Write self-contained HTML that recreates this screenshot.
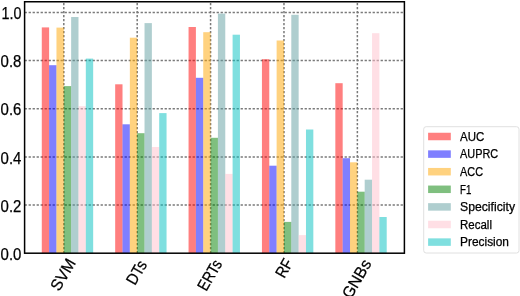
<!DOCTYPE html><html><head><meta charset="utf-8"><style>html,body{margin:0;padding:0;background:#fff;width:520px;height:296px;overflow:hidden}svg{display:block;will-change:transform}text{font-family:"Liberation Sans",sans-serif;fill:#000;stroke:#000;stroke-width:0.25px}</style></head><body>
<svg width="520" height="296" viewBox="0 0 520 296">
<rect width="520" height="296" fill="#fff"/>
<line x1="24.60" y1="205.04" x2="404.40" y2="205.04" stroke="#7a7a7a" stroke-width="1.5" stroke-dasharray="2.3 1.7"/>
<line x1="24.60" y1="156.88" x2="404.40" y2="156.88" stroke="#7a7a7a" stroke-width="1.5" stroke-dasharray="2.3 1.7"/>
<line x1="24.60" y1="108.72" x2="404.40" y2="108.72" stroke="#7a7a7a" stroke-width="1.5" stroke-dasharray="2.3 1.7"/>
<line x1="24.60" y1="60.56" x2="404.40" y2="60.56" stroke="#7a7a7a" stroke-width="1.5" stroke-dasharray="2.3 1.7"/>
<line x1="24.60" y1="12.40" x2="404.40" y2="12.40" stroke="#7a7a7a" stroke-width="1.5" stroke-dasharray="2.3 1.7"/>
<line x1="63.80" y1="253.20" x2="63.80" y2="1.75" stroke="#7a7a7a" stroke-width="1.5" stroke-dasharray="2.3 1.7"/>
<line x1="137.19" y1="253.20" x2="137.19" y2="1.75" stroke="#7a7a7a" stroke-width="1.5" stroke-dasharray="2.3 1.7"/>
<line x1="210.58" y1="253.20" x2="210.58" y2="1.75" stroke="#7a7a7a" stroke-width="1.5" stroke-dasharray="2.3 1.7"/>
<line x1="283.97" y1="253.20" x2="283.97" y2="1.75" stroke="#7a7a7a" stroke-width="1.5" stroke-dasharray="2.3 1.7"/>
<line x1="357.36" y1="253.20" x2="357.36" y2="1.75" stroke="#7a7a7a" stroke-width="1.5" stroke-dasharray="2.3 1.7"/>
<rect x="41.78" y="27.40" width="7.34" height="225.80" fill="#ff0000" fill-opacity="0.5"/>
<rect x="49.12" y="65.20" width="7.34" height="188.00" fill="#0000ff" fill-opacity="0.5"/>
<rect x="56.46" y="27.60" width="7.34" height="225.60" fill="#ffa500" fill-opacity="0.5"/>
<rect x="63.80" y="86.10" width="7.34" height="167.10" fill="#008000" fill-opacity="0.5"/>
<rect x="71.14" y="17.00" width="7.34" height="236.20" fill="#5f9ea0" fill-opacity="0.5"/>
<rect x="78.48" y="106.20" width="7.34" height="147.00" fill="#ffc0cb" fill-opacity="0.5"/>
<rect x="85.82" y="58.60" width="7.34" height="194.60" fill="#00bfbf" fill-opacity="0.5"/>
<rect x="115.17" y="84.30" width="7.34" height="168.90" fill="#ff0000" fill-opacity="0.5"/>
<rect x="122.51" y="124.30" width="7.34" height="128.90" fill="#0000ff" fill-opacity="0.5"/>
<rect x="129.85" y="37.70" width="7.34" height="215.50" fill="#ffa500" fill-opacity="0.5"/>
<rect x="137.19" y="133.20" width="7.34" height="120.00" fill="#008000" fill-opacity="0.5"/>
<rect x="144.53" y="23.10" width="7.34" height="230.10" fill="#5f9ea0" fill-opacity="0.5"/>
<rect x="151.87" y="147.00" width="7.34" height="106.20" fill="#ffc0cb" fill-opacity="0.5"/>
<rect x="159.21" y="113.10" width="7.34" height="140.10" fill="#00bfbf" fill-opacity="0.5"/>
<rect x="188.56" y="27.00" width="7.34" height="226.20" fill="#ff0000" fill-opacity="0.5"/>
<rect x="195.90" y="77.80" width="7.34" height="175.40" fill="#0000ff" fill-opacity="0.5"/>
<rect x="203.24" y="32.20" width="7.34" height="221.00" fill="#ffa500" fill-opacity="0.5"/>
<rect x="210.58" y="137.80" width="7.34" height="115.40" fill="#008000" fill-opacity="0.5"/>
<rect x="217.92" y="13.60" width="7.34" height="239.60" fill="#5f9ea0" fill-opacity="0.5"/>
<rect x="225.26" y="173.90" width="7.34" height="79.30" fill="#ffc0cb" fill-opacity="0.5"/>
<rect x="232.60" y="34.70" width="7.34" height="218.50" fill="#00bfbf" fill-opacity="0.5"/>
<rect x="261.95" y="59.20" width="7.34" height="194.00" fill="#ff0000" fill-opacity="0.5"/>
<rect x="269.29" y="165.70" width="7.34" height="87.50" fill="#0000ff" fill-opacity="0.5"/>
<rect x="276.63" y="40.50" width="7.34" height="212.70" fill="#ffa500" fill-opacity="0.5"/>
<rect x="283.97" y="221.90" width="7.34" height="31.30" fill="#008000" fill-opacity="0.5"/>
<rect x="291.31" y="14.80" width="7.34" height="238.40" fill="#5f9ea0" fill-opacity="0.5"/>
<rect x="298.65" y="235.10" width="7.34" height="18.10" fill="#ffc0cb" fill-opacity="0.5"/>
<rect x="305.99" y="129.50" width="7.34" height="123.70" fill="#00bfbf" fill-opacity="0.5"/>
<rect x="335.34" y="83.20" width="7.34" height="170.00" fill="#ff0000" fill-opacity="0.5"/>
<rect x="342.68" y="158.20" width="7.34" height="95.00" fill="#0000ff" fill-opacity="0.5"/>
<rect x="350.02" y="162.30" width="7.34" height="90.90" fill="#ffa500" fill-opacity="0.5"/>
<rect x="357.36" y="191.70" width="7.34" height="61.50" fill="#008000" fill-opacity="0.5"/>
<rect x="364.70" y="179.70" width="7.34" height="73.50" fill="#5f9ea0" fill-opacity="0.5"/>
<rect x="372.04" y="33.20" width="7.34" height="220.00" fill="#ffc0cb" fill-opacity="0.5"/>
<rect x="379.38" y="217.00" width="7.34" height="36.20" fill="#00bfbf" fill-opacity="0.5"/>
<rect x="24.60" y="1.75" width="379.80" height="251.45" fill="none" stroke="#000" stroke-width="1.5"/>
<text x="21.4" y="259.90" font-size="16.3" text-anchor="end" textLength="20.8" lengthAdjust="spacingAndGlyphs">0.0</text>
<text x="21.4" y="211.74" font-size="16.3" text-anchor="end" textLength="20.8" lengthAdjust="spacingAndGlyphs">0.2</text>
<text x="21.4" y="163.58" font-size="16.3" text-anchor="end" textLength="20.8" lengthAdjust="spacingAndGlyphs">0.4</text>
<text x="21.4" y="115.42" font-size="16.3" text-anchor="end" textLength="20.8" lengthAdjust="spacingAndGlyphs">0.6</text>
<text x="21.4" y="67.26" font-size="16.3" text-anchor="end" textLength="20.8" lengthAdjust="spacingAndGlyphs">0.8</text>
<text x="21.4" y="19.10" font-size="16.3" text-anchor="end" textLength="20.0" lengthAdjust="spacingAndGlyphs">1.0</text>
<text transform="translate(62.80,274.54) rotate(-60)" x="0" y="5.65" font-size="16.3" text-anchor="middle" textLength="33.91" lengthAdjust="spacingAndGlyphs">SVM</text>
<text transform="translate(136.39,272.45) rotate(-60)" x="0" y="5.65" font-size="16.3" text-anchor="middle" textLength="24.70" lengthAdjust="spacingAndGlyphs">DTs</text>
<text transform="translate(209.58,275.11) rotate(-60)" x="0" y="5.65" font-size="16.3" text-anchor="middle" textLength="32.47" lengthAdjust="spacingAndGlyphs">ERTs</text>
<text transform="translate(283.97,268.14) rotate(-60)" x="0" y="5.65" font-size="16.3" text-anchor="middle" textLength="18.69" lengthAdjust="spacingAndGlyphs">RF</text>
<text transform="translate(356.56,278.82) rotate(-60)" x="0" y="5.65" font-size="16.3" text-anchor="middle" textLength="41.73" lengthAdjust="spacingAndGlyphs">GNBs</text>
<rect x="423.7" y="126.7" width="95.30" height="126.30" rx="2.5" fill="#fff" stroke="#e0e0e0" stroke-width="1"/>
<rect x="428.1" y="132.75" width="22.7" height="7.5" fill="#ff0000" fill-opacity="0.5"/>
<text x="460.0" y="140.70" font-size="12" textLength="24.3" lengthAdjust="spacingAndGlyphs">AUC</text>
<rect x="428.1" y="150.35" width="22.7" height="7.5" fill="#0000ff" fill-opacity="0.5"/>
<text x="460.0" y="158.30" font-size="12" textLength="38.2" lengthAdjust="spacingAndGlyphs">AUPRC</text>
<rect x="428.1" y="167.95" width="22.7" height="7.5" fill="#ffa500" fill-opacity="0.5"/>
<text x="460.0" y="175.90" font-size="12" textLength="23.0" lengthAdjust="spacingAndGlyphs">ACC</text>
<rect x="428.1" y="185.55" width="22.7" height="7.5" fill="#008000" fill-opacity="0.5"/>
<text x="460.0" y="193.50" font-size="12" textLength="11.3" lengthAdjust="spacingAndGlyphs">F1</text>
<rect x="428.1" y="203.15" width="22.7" height="7.5" fill="#5f9ea0" fill-opacity="0.5"/>
<text x="460.0" y="211.10" font-size="12" textLength="55.0" lengthAdjust="spacingAndGlyphs">Specificity</text>
<rect x="428.1" y="220.75" width="22.7" height="7.5" fill="#ffc0cb" fill-opacity="0.5"/>
<text x="460.0" y="228.70" font-size="12" textLength="32.0" lengthAdjust="spacingAndGlyphs">Recall</text>
<rect x="428.1" y="238.35" width="22.7" height="7.5" fill="#00bfbf" fill-opacity="0.5"/>
<text x="460.0" y="246.30" font-size="12" textLength="49.0" lengthAdjust="spacingAndGlyphs">Precision</text>
</svg></body></html>
